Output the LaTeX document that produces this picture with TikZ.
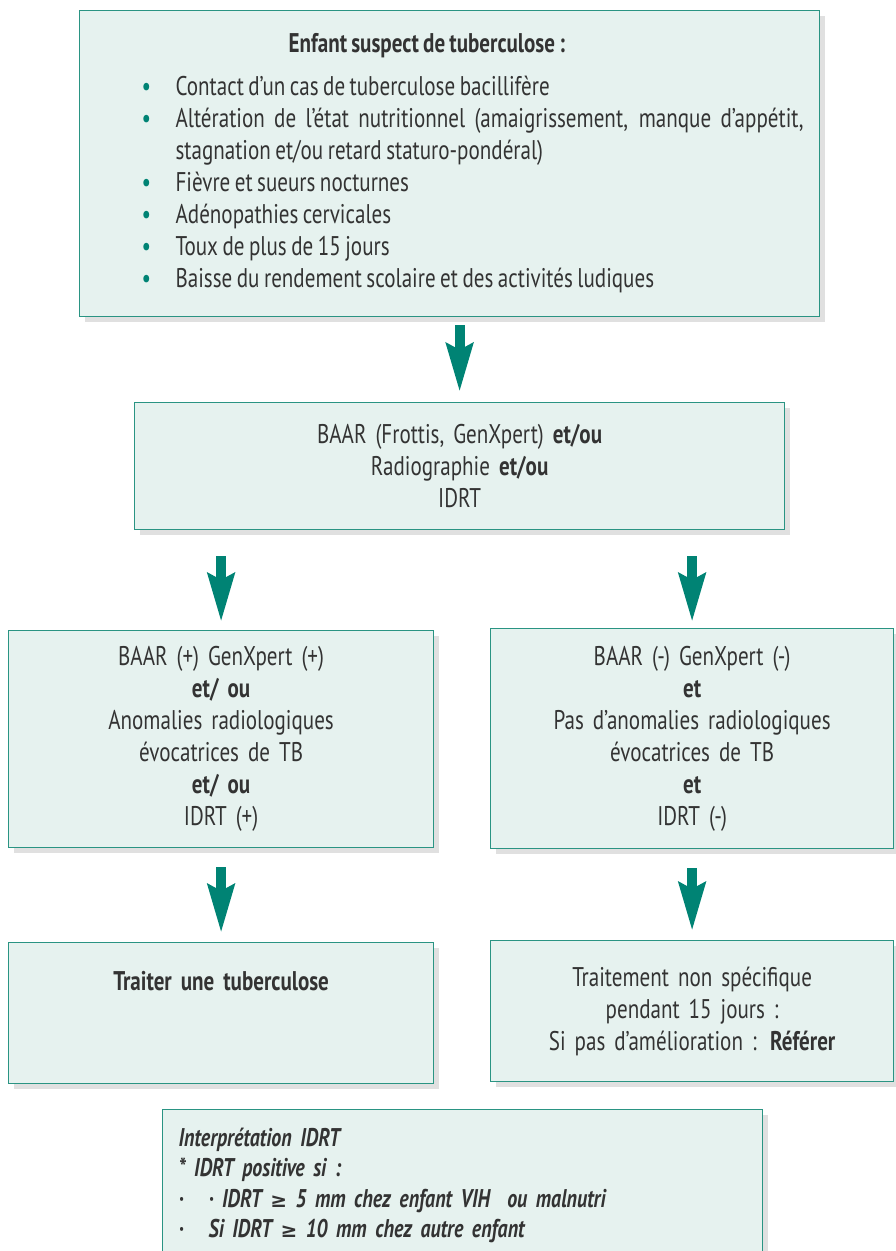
\documentclass[tikz,border=0pt]{standalone}
\usepackage{fontspec}
\setmainfont{PT Sans}[FakeStretch=0.78, WordSpace=0.8]
\newfontfamily\symb{DejaVu Sans}
\usetikzlibrary{arrows.meta}
\usetikzlibrary{shadows}

\definecolor{vertclair}{HTML}{E6F2EF}
\definecolor{vertbord}{HTML}{2A9483}
\definecolor{vertfonce}{HTML}{008374}
\definecolor{texte}{HTML}{333333}

\newcommand{\puce}{\par\hangindent=17pt\hangafter=1\noindent\makebox[17pt][l]{\textcolor{vertfonce}{\textbullet}}}
\newcommand{\supeg}{{\symb\fontsize{10}{10}\selectfont ≥}}

\tikzset{
  boite/.style={draw=vertbord, fill=vertclair, line width=0.6pt, inner sep=0pt,
    anchor=north west, text=texte, align=center,
    font=\fontsize{13.5}{16}\selectfont,
    drop shadow={shadow xshift=2.5pt, shadow yshift=-2.5pt, fill=black, opacity=0.12}},
  fleche/.style={draw=vertfonce, line width=5pt,
    -{Stealth[length=24pt, width=13pt, inset=3pt]}},
}

\begin{document}
\begin{tikzpicture}[x=0.5pt, y=-0.5pt]
  \useasboundingbox (0,0) rectangle (895,1251);
  \node[boite, minimum width=370pt, minimum height=153pt, text width=354pt, align=justify] (suspect) at (79,10) {%
    \leftskip=23pt
    \noindent\hspace*{73.5pt}\textbf{Enfant suspect de tuberculose :}\par\vspace{5.5pt}
    \puce Contact d’un cas de tuberculose bacillifère
    \puce Altération de l’état nutritionnel (amaigrissement, manque d’appétit, stagnation et/ou retard staturo-pondéral)
    \puce Fièvre et sueurs nocturnes
    \puce Adénopathies cervicales
    \puce Toux de plus de 15 jours
    \puce Baisse du rendement scolaire et des activités ludiques\par};
  \node[boite, minimum width=325pt, minimum height=63.5pt, text width=320pt] (baar) at (134,402) {%
    BAAR (Frottis, GenXpert) \textbf{et/ou}\\
    Radiographie \textbf{et/ou}\\
    IDRT};
  \node[boite, minimum width=212.5pt, minimum height=108.5pt, text width=205pt] (positif) at (8,630) {%
    BAAR (+) GenXpert (+)\\
    \textbf{et/ ou}\\
    Anomalies radiologiques\\
    évocatrices de TB\\
    \textbf{et/ ou}\\
    IDRT (+)};
  \node[boite, minimum width=201.5pt, minimum height=110pt, text width=195pt] (negatif) at (490,628) {%
    BAAR (-) GenXpert (-)\\
    \textbf{et}\\
    Pas d’anomalies radiologiques\\
    évocatrices de TB\\
    \textbf{et}\\
    IDRT (-)};
  \node[boite, minimum width=212.5pt, minimum height=70.5pt, text width=205pt] (traiter) at (8,942) {%
    \textbf{Traiter une tuberculose}\\ \mbox{}\\ \mbox{}};
  \node[boite, minimum width=201.5pt, minimum height=70.5pt, text width=195pt] (referer) at (490,940) {%
    Traitement non spécifique\\
    pendant 15 jours :\\
    Si pas d’amélioration : \textbf{Référer}};
  \node[boite, minimum width=300pt, minimum height=76pt, text width=284pt, align=left,
        font=\fontsize{12.8}{15.2}\selectfont\bfseries\itshape] (idrt) at (162,1109) {%
    Interprétation IDRT\\
    \relax* IDRT positive si :\\
    \makebox[15pt][l]{·}· IDRT \supeg{} 5 mm chez enfant VIH\ \ ou malnutri\\
    \makebox[15pt][l]{·}Si IDRT \supeg{} 10 mm chez autre enfant};

  \draw[fleche, shorten <=4pt, shorten >=5pt] (suspect.south -| baar.north) -- (baar.north);
  \draw[fleche, shorten <=13pt, shorten >=4pt] (baar.south -| positif.north) -- (positif.north);
  \draw[fleche, shorten <=13pt, shorten >=3pt] (baar.south -| negatif.north) -- (negatif.north);
  \draw[fleche, shorten <=9.5pt, shorten >=4.5pt] (positif.south) -- (traiter.north);
  \draw[fleche, shorten <=9.5pt, shorten >=4.5pt] (negatif.south) -- (referer.north);
\end{tikzpicture}
\end{document}
